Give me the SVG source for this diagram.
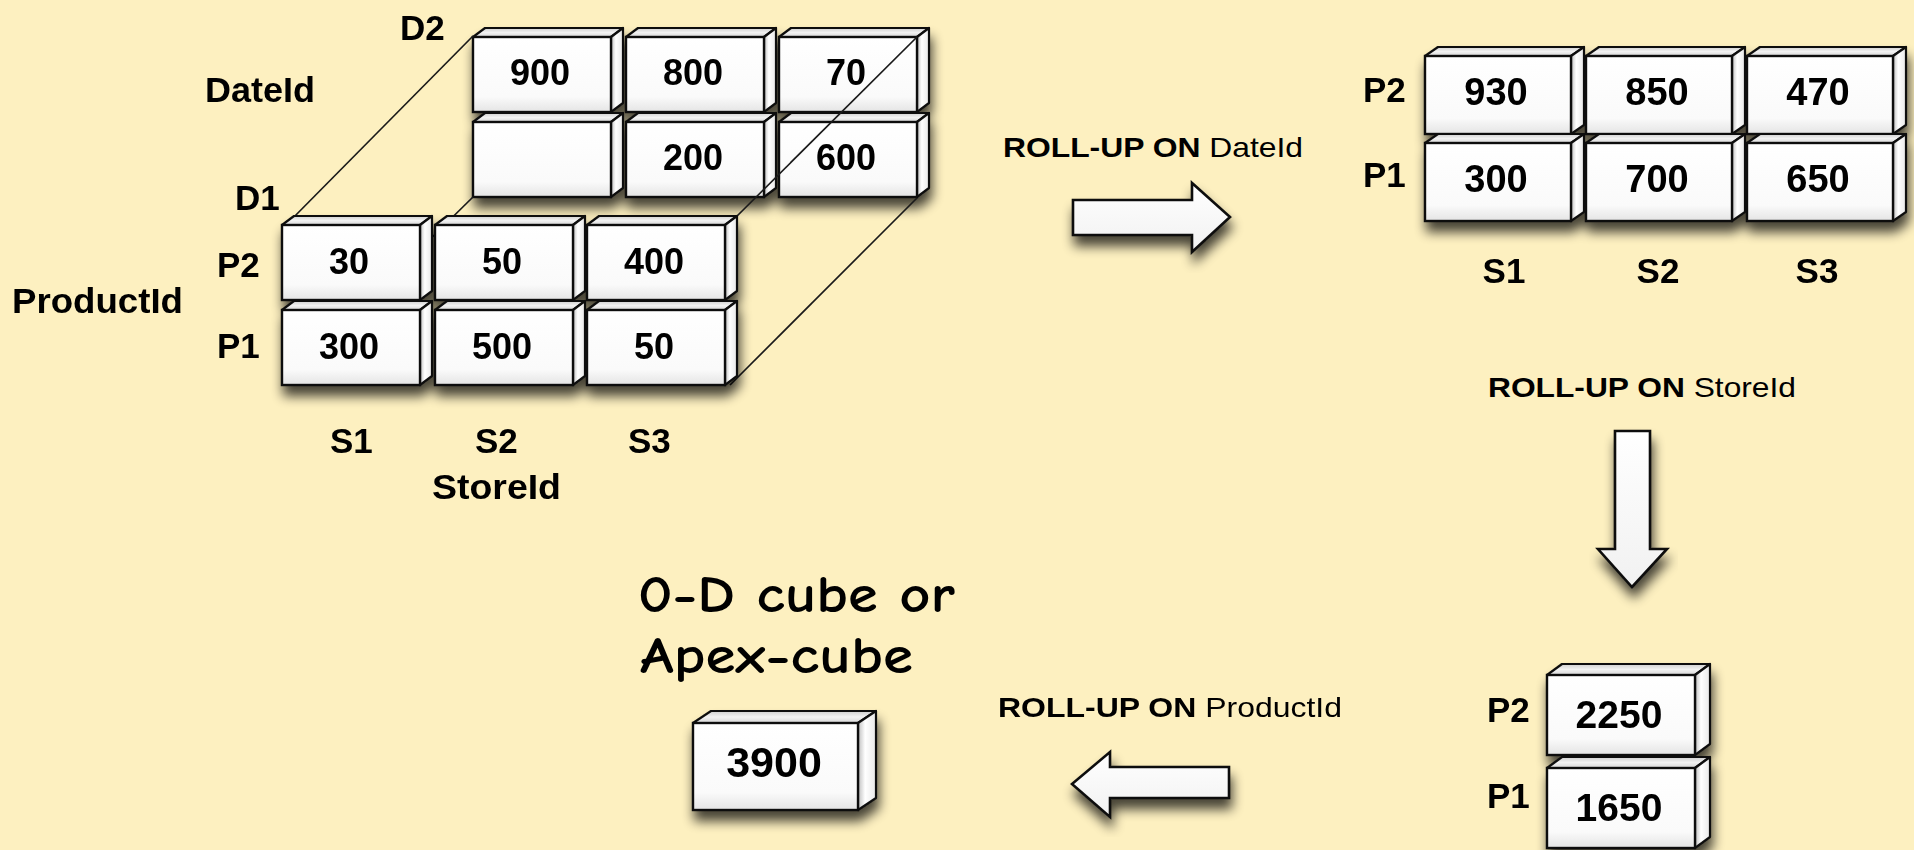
<svg xmlns="http://www.w3.org/2000/svg" xmlns:xlink="http://www.w3.org/1999/xlink" width="1914" height="850" viewBox="0 0 1914 850">
  <defs>
    <style>
      .ctop { fill: url(#gTop); stroke: #111; stroke-width: 2.2; stroke-linejoin: round; }
      .cside { fill: url(#gSide); stroke: #111; stroke-width: 2.2; stroke-linejoin: round; }
      .cfront { fill: url(#gFront); stroke: #111; stroke-width: 2.4; }
      .num { font-family: "Liberation Sans", Arial, Helvetica, sans-serif; font-weight: bold; font-size: 36px; text-anchor: middle; fill: #000; }
      .lbl { font-family: "Liberation Sans", Arial, Helvetica, sans-serif; font-weight: bold; font-size: 35px; fill: #000; }
      .mid { text-anchor: middle; }
      .op { font-family: "Liberation Sans", Arial, Helvetica, sans-serif; font-size: 28px; fill: #000; }
      .op .b { font-weight: bold; }
      .edge { stroke: #1a1a1a; stroke-width: 1.7; fill: none; }
      .arrow { fill: url(#gArrow); stroke: #111; stroke-width: 2.6; stroke-linejoin: miter; }
      .title { font-family: "Comic Sans MS", "Comic Neue", "DejaVu Sans", sans-serif; font-weight: bold; font-size: 52px; fill: #000; }
    </style>
    <linearGradient id="gFront" x1="0" y1="0" x2="0" y2="1">
      <stop offset="0" stop-color="#ffffff"/>
      <stop offset="0.8" stop-color="#fafafa"/>
      <stop offset="1" stop-color="#e4e4e4"/>
    </linearGradient>
    <linearGradient id="gTop" x1="0" y1="0" x2="0" y2="1">
      <stop offset="0" stop-color="#cfcfcf"/>
      <stop offset="0.5" stop-color="#f2f2f2"/>
      <stop offset="1" stop-color="#d6d6d6"/>
    </linearGradient>
    <linearGradient id="gSide" x1="0" y1="0" x2="1" y2="0">
      <stop offset="0" stop-color="#bdbdbd"/>
      <stop offset="0.4" stop-color="#ffffff"/>
      <stop offset="1" stop-color="#e8e8e8"/>
    </linearGradient>
    <linearGradient id="gArrow" x1="0" y1="0" x2="0" y2="1">
      <stop offset="0" stop-color="#ffffff"/>
      <stop offset="1" stop-color="#f1f1f1"/>
    </linearGradient>
    <filter id="shadow" x="-15%" y="-20%" width="130%" height="150%">
      <feGaussianBlur in="SourceAlpha" stdDeviation="6"/>
      <feOffset dx="2" dy="10" result="blur"/>
      <feComponentTransfer><feFuncA type="linear" slope="0.72"/></feComponentTransfer>
      <feMerge><feMergeNode/><feMergeNode in="SourceGraphic"/></feMerge>
    </filter>
    <!-- cell templates: origin at the front face's top-left corner -->
    <g id="cellA">
      <path class="ctop" d="M0,0 L12,-9 H150 L138,0 Z"/>
      <path class="cside" d="M138,0 L150,-9 V66 L138,75 Z"/>
      <rect class="cfront" width="138" height="75"/>
    </g>
    <g id="cellB">
      <path class="ctop" d="M0,0 L13,-9 H159 L146,0 Z"/>
      <path class="cside" d="M146,0 L159,-9 V69 L146,78 Z"/>
      <rect class="cfront" width="146" height="78"/>
    </g>
    <g id="cellC">
      <path class="ctop" d="M0,0 L15,-11 H163 L148,0 Z"/>
      <path class="cside" d="M148,0 L163,-11 V69 L148,80 Z"/>
      <rect class="cfront" width="148" height="80"/>
    </g>
    <g id="cellD">
      <path class="ctop" d="M0,0 L18,-12 H183 L165,0 Z"/>
      <path class="cside" d="M165,0 L183,-12 V75 L165,87 Z"/>
      <rect class="cfront" width="165" height="87"/>
    </g>
  </defs>

  <rect x="0" y="0" width="1914" height="850" fill="#fdf0c0"/>

  <!-- 3-D cube: ProductId x StoreId x DateId -->
  <g id="cube-3d">
    <g id="cube-3d-d2" filter="url(#shadow)">
      <use xlink:href="#cellA" x="473" y="37"/><text class="num" x="540" y="85">900</text>
      <use xlink:href="#cellA" x="626" y="37"/><text class="num" x="693" y="85">800</text>
      <use xlink:href="#cellA" x="779" y="37"/><text class="num" x="846" y="85">70</text>
      <use xlink:href="#cellA" x="473" y="122"/>
      <use xlink:href="#cellA" x="626" y="122"/><text class="num" x="693" y="170">200</text>
      <use xlink:href="#cellA" x="779" y="122"/><text class="num" x="846" y="170">600</text>
    </g>
    <g id="cube-3d-edges">
      <line class="edge" x1="286" y1="225" x2="473" y2="36"/>
      <line class="edge" x1="282" y1="385" x2="473" y2="197"/>
      <line class="edge" x1="728" y1="225" x2="917" y2="37"/>
      <line class="edge" x1="730" y1="385" x2="917" y2="198"/>
    </g>
    <g id="cube-3d-d1" filter="url(#shadow)">
      <use xlink:href="#cellA" x="282" y="225"/><text class="num" x="349" y="274">30</text>
      <use xlink:href="#cellA" x="435" y="225"/><text class="num" x="502" y="274">50</text>
      <use xlink:href="#cellA" x="587" y="225"/><text class="num" x="654" y="274">400</text>
      <use xlink:href="#cellA" x="282" y="310"/><text class="num" x="349" y="359">300</text>
      <use xlink:href="#cellA" x="435" y="310"/><text class="num" x="502" y="359">500</text>
      <use xlink:href="#cellA" x="587" y="310"/><text class="num" x="654" y="359">50</text>
    </g>
    <g id="cube-3d-labels">
      <text class="lbl" x="400" y="40">D2</text>
      <text class="lbl" x="205" y="102" textLength="110" lengthAdjust="spacingAndGlyphs">DateId</text>
      <text class="lbl" x="235" y="210">D1</text>
      <text class="lbl" x="217" y="277">P2</text>
      <text class="lbl" x="12" y="313" textLength="171" lengthAdjust="spacingAndGlyphs">ProductId</text>
      <text class="lbl" x="217" y="358">P1</text>
      <text class="lbl" x="330" y="453">S1</text>
      <text class="lbl" x="475" y="453">S2</text>
      <text class="lbl" x="628" y="453">S3</text>
      <text class="lbl" x="432" y="499" textLength="129" lengthAdjust="spacingAndGlyphs">StoreId</text>
    </g>
  </g>

  <!-- 2-D cube: ProductId x StoreId -->
  <g id="cube-2d">
    <g filter="url(#shadow)">
      <use xlink:href="#cellB" x="1425" y="56"/><text class="num" x="1496" y="105" style="font-size:38px">930</text>
      <use xlink:href="#cellB" x="1586" y="56"/><text class="num" x="1657" y="105" style="font-size:38px">850</text>
      <use xlink:href="#cellB" x="1747" y="56"/><text class="num" x="1818" y="105" style="font-size:38px">470</text>
      <use xlink:href="#cellB" x="1425" y="143"/><text class="num" x="1496" y="192" style="font-size:38px">300</text>
      <use xlink:href="#cellB" x="1586" y="143"/><text class="num" x="1657" y="192" style="font-size:38px">700</text>
      <use xlink:href="#cellB" x="1747" y="143"/><text class="num" x="1818" y="192" style="font-size:38px">650</text>
    </g>
    <text class="lbl" x="1363" y="102">P2</text>
    <text class="lbl" x="1363" y="187">P1</text>
    <text class="lbl mid" x="1504" y="283">S1</text>
    <text class="lbl mid" x="1658" y="283">S2</text>
    <text class="lbl mid" x="1817" y="283">S3</text>
  </g>

  <!-- 1-D cube: ProductId -->
  <g id="cube-1d">
    <g filter="url(#shadow)">
      <use xlink:href="#cellC" x="1547" y="675"/><text class="num" x="1619" y="728" style="font-size:39px">2250</text>
      <use xlink:href="#cellC" x="1547" y="768"/><text class="num" x="1619" y="821" style="font-size:39px">1650</text>
    </g>
    <text class="lbl" x="1487" y="722">P2</text>
    <text class="lbl" x="1487" y="808">P1</text>
  </g>

  <!-- 0-D cube (apex) -->
  <g id="cube-0d">
    <text class="title" x="638" y="612" textLength="317" lengthAdjust="spacingAndGlyphs">0-D cube or</text>
    <text class="title" x="640" y="673" textLength="273" lengthAdjust="spacingAndGlyphs">Apex-cube</text>
    <g filter="url(#shadow)">
      <use xlink:href="#cellD" x="693" y="723"/><text class="num" x="774" y="777" style="font-size:43px">3900</text>
    </g>
  </g>

  <!-- roll-up operations -->
  <g id="connectors">
    <g id="rollup-dateid">
      <text class="op" x="1003" y="157" textLength="300" lengthAdjust="spacingAndGlyphs"><tspan class="b">ROLL-UP ON </tspan>DateId</text>
      <path class="arrow" filter="url(#shadow)" d="M1073,200 H1192 V183 L1230,217 L1192,252 V235 H1073 Z"/>
    </g>
    <g id="rollup-storeid">
      <text class="op" x="1488" y="397" textLength="308" lengthAdjust="spacingAndGlyphs"><tspan class="b">ROLL-UP ON </tspan>StoreId</text>
      <path class="arrow" filter="url(#shadow)" d="M1615,431 V549 H1598 L1632,587 L1667,549 H1650 V431 Z"/>
    </g>
    <g id="rollup-productid">
      <text class="op" x="998" y="717" textLength="344" lengthAdjust="spacingAndGlyphs"><tspan class="b">ROLL-UP ON </tspan>ProductId</text>
      <path class="arrow" filter="url(#shadow)" d="M1229,767 H1110 V752 L1072,784 L1110,817 V798 H1229 Z"/>
    </g>
  </g>
</svg>
